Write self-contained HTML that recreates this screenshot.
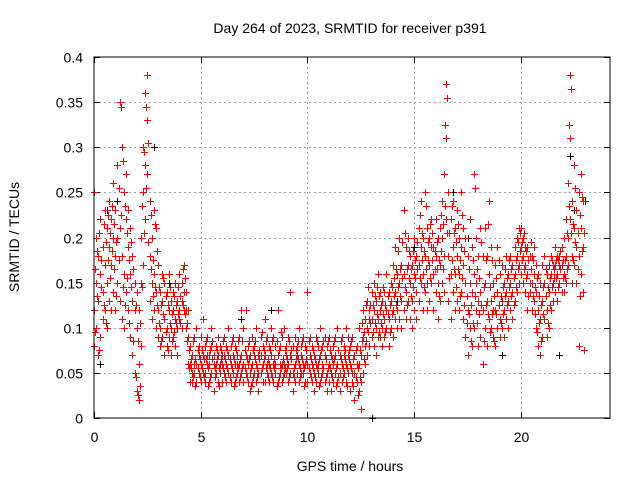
<!DOCTYPE html>
<html><head><meta charset="utf-8"><style>
html,body{margin:0;padding:0;background:#fff;}
svg{display:block;font-family:"Liberation Sans",sans-serif;}
</style></head><body>
<svg id="chart" width="640" height="480" viewBox="0 0 640 480">
<rect width="640" height="480" fill="#fff"/>
<text x="350" y="33" font-size="14" text-anchor="middle">Day 264 of 2023, SRMTID for receiver p391</text>
<text x="350" y="471" font-size="14" text-anchor="middle">GPS time / hours</text>
<text transform="translate(19,237) rotate(-90)" font-size="14" text-anchor="middle">SRMTID / TECUs</text>
<g id="grid"></g>
<g id="ticks"></g>
<g id="black-series"></g>
<g id="red-series"></g>
<rect x="94" y="57" width="516" height="361" fill="none" stroke="#000" stroke-width="1"/>
</svg>
<script>
const xTicks=[0,5,10,15,20];
const xTickLabels=["0","5","10","15","20"];
const yTicks=[0,0.05,0.1,0.15,0.2,0.25,0.3,0.35,0.4];
const yTickLabels=["0","0.05","0.1","0.15","0.2","0.25","0.3","0.35","0.4"];
const blackPts=[[0.3,.06],[1.1,.24],[2.8,.30],[3.5,.15],[6.9,.11],[8.3,.12],[13.0,0.0],[15,.19],[17.5,.20],[19.1,.07],[21.8,.07],[22.3,.29],[22.5,.23],[23,.24],[16.8,.25],[10.8,.04],[0.6,.23],[14.2,.13]];
const redRows=[
[0.0,.25,.12,.08],[0.1,.20,.10,.15],[0.2,.18,.07,.13],[0.3,.22,.16,.09],[0.4,.14,.19,.11],[0.5,.23,.17,.12],[0.6,.21,.15,.10],[0.7,.19,.13,.24],[0.8,.17,.22,.12],[0.9,.20,.14,.26],
[1.0,.18,.12,.23],[1.1,.15,.28,.20],[1.2,.35,.21,.13],[1.3,.30,.18,.11],[1.4,.25,.16,.10],[1.5,.22,.14,.27],[1.6,.19,.12,.23],[1.7,.16,.09,.21],[1.8,.13,.07,.18],[1.9,.12,.05,.15],
[2.0,.10,.03,.14],[2.1,.02,.06,.12],[2.2,.08,.15,.20],[2.3,.17,.25,.30],[2.4,.36,.28,.22],[2.5,.38,.33,.27],[2.6,.24,.18,.13],[2.7,.20,.15,.11],[2.8,.23,.16,.12],[2.9,.21,.14,.10],
[3.0,.12,.09,.17],[3.1,.10,.14,.08],[3.2,.13,.09,.16],[3.3,.11,.07,.15],[3.4,.14,.10,.08],[3.5,.12,.09,.16],[3.6,.10,.13,.07],[3.7,.12,.09,.14],[3.8,.11,.08,.15],[3.9,.13,.10,.07],
[4.0,.16,.11,.12],[4.1,.15,.13,.10],[4.2,.17,.12,.14],[4.3,.14,.10,.12],[4.4,.09,.12,.06],[4.5,.06,.04,.08],[4.6,.05,.07,.04],[4.7,.06,.09,.05],[4.8,.10,.06,.04],[4.9,.05,.08,.07],
[5.0,.06,.04,.09],[5.1,.07,.05,.11],[5.2,.05,.08,.04],[5.3,.06,.09,.07],[5.4,.04,.07,.06],[5.5,.08,.05,.10],[5.6,.06,.03,.07],[5.7,.05,.08,.06],[5.8,.07,.04,.09],[5.9,.06,.05,.08],
[6.0,.04,.07,.06],[6.1,.09,.05,.07],[6.2,.06,.08,.04],[6.3,.05,.07,.10],[6.4,.08,.06,.04],[6.5,.07,.05,.09],[6.6,.06,.08,.04],[6.7,.05,.07,.06],[6.8,.09,.06,.04],[6.9,.07,.05,.12],
[7.0,.10,.06,.04],[7.1,.07,.05,.12],[7.2,.06,.04,.08],[7.3,.05,.07,.03],[7.4,.06,.09,.04],[7.5,.08,.05,.07],[7.6,.06,.04,.10],[7.7,.05,.07,.03],[7.8,.07,.05,.09],[7.9,.06,.08,.04],
[8.0,.04,.07,.11],[8.1,.06,.05,.09],[8.2,.08,.04,.06],[8.3,.05,.07,.10],[8.4,.09,.06,.04],[8.5,.06,.08,.05],[8.6,.07,.04,.12],[8.7,.05,.08,.06],[8.8,.09,.06,.04],[8.9,.06,.10,.05],
[9.0,.08,.05,.07],[9.1,.06,.04,.09],[9.2,.07,.05,.14],[9.3,.05,.08,.03],[9.4,.06,.09,.04],[9.5,.08,.05,.07],[9.6,.06,.04,.10],[9.7,.07,.05,.08],[9.8,.05,.09,.06],[9.9,.08,.04,.06],
[10.0,.14,.06,.04],[10.1,.07,.05,.09],[10.2,.06,.04,.08],[10.3,.05,.07,.03],[10.4,.09,.06,.04],[10.5,.06,.08,.05],[10.6,.04,.07,.10],[10.7,.06,.05,.08],[10.8,.07,.04,.09],[10.9,.05,.08,.03],
[11.0,.06,.04,.09],[11.1,.05,.07,.03],[11.2,.08,.06,.04],[11.3,.05,.09,.07],[11.4,.06,.04,.10],[11.5,.07,.05,.03],[11.6,.06,.09,.04],[11.7,.05,.08,.07],[11.8,.10,.06,.04],[11.9,.07,.05,.09],
[12.0,.06,.03,.08],[12.1,.05,.09,.04],[12.2,.07,.05,.02],[12.3,.08,.04,.06],[12.4,.10,.06,.03],[12.5,.04,.01,.07],[12.6,.09,.05,.12],[12.7,.08,.11,.06],[12.8,.10,.07,.13],[12.9,.12,.08,.11],
[13.0,.09,.14,.11],[13.1,.12,.08,.15],[13.2,.10,.13,.07],[13.3,.16,.11,.09],[13.4,.12,.09,.14],[13.5,.10,.13,.08],[13.6,.14,.11,.09],[13.7,.12,.16,.10],[13.8,.11,.14,.08],[13.9,.13,.10,.15],
[14.0,.12,.17,.09],[14.1,.14,.11,.19],[14.2,.12,.16,.10],[14.3,.15,.20,.11],[14.4,.13,.17,.10],[14.5,.16,.12,.23],[14.6,.14,.19,.11],[14.7,.17,.13,.20],[14.8,.15,.11,.18],[14.9,.13,.17,.10],
[15.0,.16,.12,.20],[15.1,.14,.18,.11],[15.2,.17,.13,.21],[15.3,.19,.15,.24],[15.4,.16,.12,.20],[15.5,.18,.14,.25],[15.6,.15,.21,.12],[15.7,.17,.13,.20],[15.8,.19,.15,.22],[15.9,.16,.12,.19],
[16.0,.18,.14,.22],[16.1,.15,.20,.11],[16.2,.17,.13,.21],[16.3,.20,.15,.24],[16.4,.27,.18,.14],[16.5,.37,.31,.22],[16.6,.25,.18,.13],[16.7,.22,.16,.11],[16.8,.19,.14,.24],[16.9,.21,.16,.12],
[17.0,.18,.13,.23],[17.1,.16,.12,.20],[17.2,.19,.14,.25],[17.3,.17,.11,.21],[17.4,.15,.09,.20],[17.5,.12,.18,.07],[17.6,.10,.15,.22],[17.7,.14,.08,.19],[17.8,.16,.10,.27],[17.9,.20,.12,.15],
[18.0,.18,.08,.13],[18.1,.14,.21,.09],[18.2,.12,.18,.06],[18.3,.10,.15,.21],[18.4,.13,.08,.18],[18.5,.16,.11,.24],[18.6,.19,.13,.10],[18.7,.15,.09,.12],[18.8,.12,.17,.08],[18.9,.14,.10,.19],
[19.0,.11,.16,.09],[19.1,.13,.17,.10],[19.2,.12,.09,.15],[19.3,.14,.11,.18],[19.4,.13,.10,.16],[19.5,.15,.12,.18],[19.6,.14,.17,.11],[19.7,.16,.13,.19],[19.8,.18,.14,.20],[19.9,.17,.15,.21],
[20.0,.19,.16,.21],[20.1,.18,.15,.20],[20.2,.17,.14,.19],[20.3,.16,.12,.19],[20.4,.18,.15,.14],[20.5,.15,.12,.18],[20.6,.16,.13,.19],[20.7,.14,.10,.17],[20.8,.12,.08,.16],[20.9,.11,.07,.15],
[21.0,.13,.09,.17],[21.1,.15,.11,.18],[21.2,.12,.09,.16],[21.3,.14,.10,.17],[21.4,.16,.12,.18],[21.5,.15,.13,.17],[21.6,.17,.14,.19],[21.7,.16,.13,.18],[21.8,.18,.15,.17],[21.9,.17,.14,.19],
[22.0,.16,.20,.14],[22.1,.18,.15,.22],[22.2,.26,.20,.17],[22.3,.38,.31,.22],[22.4,.24,.18,.15],[22.5,.21,.17,.28],[22.6,.19,.15,.23],[22.7,.25,.18,.08],[22.8,.21,.16,.27],[22.9,.19,.14,.24]
];
const redRows2=[
[0.05,.165,.095],[0.15,.185,.135],[0.25,.205,.075],[0.35,.145,.175],[0.45,.215,.125],[0.55,.195,.105],[0.65,.175,.225],[0.75,.155,.205],[0.85,.235,.185],[0.95,.165,.215],
[1.05,.195,.135],[1.15,.255,.175],[1.25,.345,.225],[1.35,.285,.145],[1.45,.235,.125],[1.55,.205,.155],[1.65,.175,.105],[1.75,.145,.195],[1.85,.085,.165],[1.95,.045,.125],
[2.05,.025,.085],[2.15,.035,.105],[2.25,.145,.235],[2.35,.295,.205],[2.45,.345,.255],[2.55,.305,.195],[2.65,.225,.165],[2.75,.175,.135],[2.85,.215,.145],[2.95,.125,.185],
[3.05,.105,.145],[3.15,.085,.125],[3.25,.115,.155],[3.35,.095,.135],[3.45,.125,.075],[3.55,.105,.145],[3.65,.085,.115],[3.75,.135,.095],[3.85,.105,.125],[3.95,.145,.115],
[4.05,.135,.105],[4.15,.165,.125],[4.25,.155,.115],[4.35,.105,.085],[4.45,.075,.055],[4.55,.055,.065],[4.65,.045,.085],[4.75,.065,.035],[4.85,.075,.055],[4.95,.065,.045],
[5.05,.055,.075],[5.15,.045,.065],[5.25,.065,.085],[5.35,.055,.035],[5.45,.075,.045],[5.55,.065,.085],[5.65,.045,.055],[5.75,.075,.065],[5.85,.055,.035],[5.95,.065,.075],
[6.05,.055,.085],[6.15,.065,.045],[6.25,.075,.055],[6.35,.045,.065],[6.45,.055,.085],[6.55,.065,.035],[6.65,.075,.045],[6.75,.055,.085],[6.85,.065,.045],[6.95,.085,.055],
[7.05,.055,.075],[7.15,.045,.065],[7.25,.065,.085],[7.35,.055,.035],[7.45,.075,.045],[7.55,.065,.085],[7.65,.045,.055],[7.75,.075,.065],[7.85,.055,.095],[7.95,.065,.075],
[8.05,.055,.085],[8.15,.065,.045],[8.25,.075,.055],[8.35,.045,.085],[8.45,.055,.065],[8.55,.085,.035],[8.65,.075,.045],[8.75,.055,.095],[8.85,.065,.045],[8.95,.075,.055],
[9.05,.055,.065],[9.15,.045,.085],[9.25,.065,.075],[9.35,.055,.045],[9.45,.075,.065],[9.55,.065,.085],[9.65,.045,.055],[9.75,.085,.065],[9.85,.055,.035],[9.95,.065,.075],
[10.05,.055,.085],[10.15,.065,.045],[10.25,.075,.055],[10.35,.045,.065],[10.45,.055,.085],[10.55,.065,.035],[10.65,.075,.045],[10.75,.055,.085],[10.85,.065,.045],[10.95,.085,.055],
[11.05,.055,.075],[11.15,.045,.065],[11.25,.065,.085],[11.35,.055,.035],[11.45,.075,.045],[11.55,.065,.085],[11.65,.045,.055],[11.75,.075,.065],[11.85,.055,.035],[11.95,.065,.075],
[12.05,.055,.085],[12.15,.065,.035],[12.25,.045,.075],[12.35,.055,.025],[12.45,.075,.045],[12.55,.085,.105],[12.65,.095,.065],[12.75,.125,.085],[12.85,.095,.145],[12.95,.105,.125],
[13.05,.125,.095],[13.15,.105,.135],[13.25,.115,.145],[13.35,.135,.095],[13.45,.105,.125],[13.55,.115,.145],[13.65,.125,.095],[13.75,.135,.115],[13.85,.125,.095],[13.95,.145,.115],
[14.05,.135,.155],[14.15,.125,.165],[14.25,.145,.185],[14.35,.135,.165],[14.45,.155,.195],[14.55,.145,.205],[14.65,.165,.125],[14.75,.155,.185],[14.85,.135,.165],[14.95,.145,.185],
[15.05,.155,.175],[15.15,.165,.195],[15.25,.155,.225],[15.35,.175,.205],[15.45,.185,.145],[15.55,.165,.235],[15.65,.175,.195],[15.75,.155,.215],[15.85,.175,.205],[15.95,.185,.165],
[16.05,.165,.195],[16.15,.175,.135],[16.25,.185,.225],[16.35,.215,.165],[16.45,.325,.235],[16.55,.355,.205],[16.65,.205,.155],[16.75,.175,.235],[16.85,.165,.205],[16.95,.195,.145],
[17.05,.165,.215],[17.15,.175,.135],[17.25,.155,.225],[17.35,.185,.125],[17.45,.135,.105],[17.55,.115,.165],[17.65,.125,.085],[17.75,.175,.105],[17.85,.135,.255],[17.95,.165,.105],
[18.05,.155,.115],[18.15,.125,.195],[18.25,.145,.085],[18.35,.125,.175],[18.45,.115,.215],[18.55,.145,.095],[18.65,.175,.115],[18.75,.135,.085],[18.85,.155,.115],[18.95,.125,.175],
[19.05,.135,.105],[19.15,.145,.115],[19.25,.135,.165],[19.35,.125,.155],[19.45,.145,.175],[19.55,.135,.165],[19.65,.155,.125],[19.75,.175,.145],[19.85,.195,.165],[19.95,.185,.205],
[20.05,.175,.195],[20.15,.165,.205],[20.25,.155,.185],[20.35,.175,.135],[20.45,.165,.195],[20.55,.135,.175],[20.65,.145,.115],[20.75,.155,.095],[20.85,.135,.105],[20.95,.085,.125],
[21.05,.145,.115],[21.15,.135,.165],[21.25,.145,.105],[21.35,.155,.125],[21.45,.145,.175],[21.55,.165,.155],[21.65,.155,.175],[21.75,.175,.145],[21.85,.165,.185],[21.95,.155,.175],
[22.05,.175,.155],[22.15,.205,.165],[22.25,.325,.235],[22.35,.365,.205],[22.45,.215,.175],[22.55,.195,.255],[22.65,.205,.165],[22.75,.225,.135],[22.85,.185,.245],[22.95,.075,.205]
];
const X0=94,X1=610,Y0=418,Y1=57,XMAX=24.17,YMAX=0.4;
const xs=t=>X0+(t/XMAX)*(X1-X0);
const ys=v=>Y0-(v/YMAX)*(Y0-Y1);
const NS="http://www.w3.org/2000/svg";
function mk(tag,attrs,parent){const e=document.createElementNS(NS,tag);for(const k in attrs)e.setAttribute(k,attrs[k]);parent.appendChild(e);return e;}
const grid=document.getElementById('grid'),ticks=document.getElementById('ticks');
xTicks.forEach((t,i)=>{
  const x=Math.round(xs(t))+0.5;
  if(t>0){const g=mk('line',{x1:x,x2:x,y1:Y1,y2:Y0,stroke:'#a0a0a0','stroke-dasharray':'2,3','stroke-width':1},grid);
  
  }
  mk('line',{x1:x,x2:x,y1:Y0,y2:Y0-6,stroke:'#000'},ticks);
  mk('line',{x1:x,x2:x,y1:Y1,y2:Y1+6,stroke:'#000'},ticks);
  const tx=mk('text',{x:x,y:Y0+24,'font-size':14,'text-anchor':'middle'},ticks);
  tx.textContent=xTickLabels[i];
  
  
});
yTicks.forEach((v,i)=>{
  const y=Math.round(ys(v))+0.5;
  if(v>0&&v<YMAX){const g=mk('line',{x1:X0,x2:X1,y1:y,y2:y,stroke:'#a0a0a0','stroke-dasharray':'2,3','stroke-width':1},grid);
  
  }
  mk('line',{x1:X0,x2:X0+6,y1:y,y2:y,stroke:'#000'},ticks);
  mk('line',{x1:X1,x2:X1-6,y1:y,y2:y,stroke:'#000'},ticks);
  const tx=mk('text',{x:X0-11,y:y+5,'font-size':14,'text-anchor':'end'},ticks);
  tx.textContent=yTickLabels[i];
  
  
});
function plus(parent,t,v,color,name){
  const x=Math.round(xs(t))+0.5,y=Math.round(ys(v))+0.5;
  const p=mk('path',{d:`M${x-3.5},${y}H${x+3.5}M${x},${y-3.5}V${y+3.5}`,stroke:color,'stroke-width':1,fill:'none'},parent);
  
  
}
const bg=document.getElementById('black-series');
blackPts.forEach(p=>plus(bg,p[0],p[1],'#000','black-point'));
const rg=document.getElementById('red-series');
redRows.forEach(r=>{for(let k=1;k<r.length;k++)plus(rg,r[0],r[k],'#ff0000','red-point');});
redRows2.forEach(r=>{for(let k=1;k<r.length;k++)plus(rg,r[0],r[k],'#ff0000','red-point');});
</script>
</body></html>
